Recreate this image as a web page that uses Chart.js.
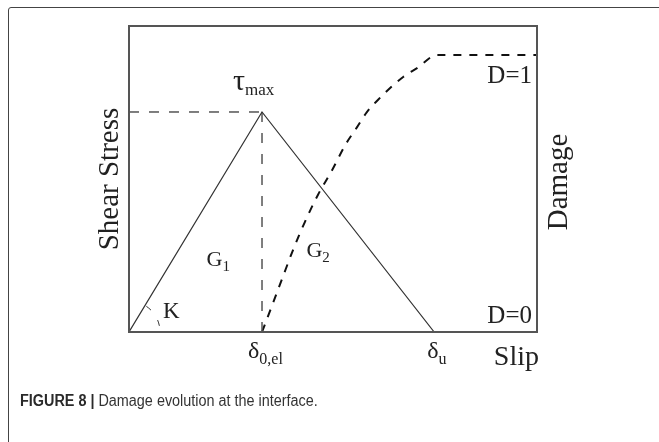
<!DOCTYPE html>
<html lang="en">
  <head>
    <meta charset="UTF-8" />
    <title>Damage evolution at the interface</title>
    <style>
      html,
      body {
        margin: 0;
        overflow: hidden;
        background: #fff;
        font-family: "Liberation Sans", Arial, Helvetica, sans-serif;
      }
      #frame {
        position: absolute;
        left: 8px;
        top: 7px;
        width: 690px;
        height: 480px;
        border: 1px solid #444;
        border-radius: 3px;
      }
      #caption {
        position: absolute;
        left: 20px;
        top: 393px;
        font-size: 16px;
        line-height: 1;
        color: #333;
        white-space: nowrap;
        transform: scaleX(0.9);
        transform-origin: left top;
      }
      #caption b {
        font-weight: bold;
        color: #2a2a2a;
      }
    </style>
    <script src="https://cdn.jsdelivr.net/npm/chart.js"></script>
  </head>
  <body>
    <div id="frame"></div>
    <canvas id="damageChart" width="659" height="442" style="position: absolute; left: 0; top: 0"></canvas>
    <div id="caption"><b>FIGURE 8 |</b> Damage evolution at the interface.</div>

    <script>
      // traction-separation law (slip in %, shear stress in % of plot height)
      const slipTri = [0, 32.6, 74.8];
      const stressTri = [0, 71.9, 0];
      const slipPeak = 32.6; // delta_0,el
      const tauMax = 71.9;

      // damage curve (right axis, 0..1)
      const damageSlip = [32.6, 35.3, 37.7, 40.2, 43.1, 46.3, 49.8, 53.0, 55.9, 58.3, 61.0, 64.0, 67.2, 70.6, 75.5, 100];
      const damageVals = [0, 0.105, 0.199, 0.296, 0.397, 0.495, 0.585, 0.675, 0.74, 0.794, 0.838, 0.881, 0.921, 0.953, 1.0, 1.0];

      const toPoints = (xs, ys) => xs.map((v, i) => ({ x: v, y: ys[i] }));

      // helper: main text with subscript
      function subText(ctx, main, sub, x, y, size, subSize, drop) {
        ctx.font = size + 'px "Liberation Serif", "Times New Roman", serif';
        ctx.fillText(main, x, y);
        const w = ctx.measureText(main).width;
        ctx.font = subSize + 'px "Liberation Serif", "Times New Roman", serif';
        ctx.fillText(sub, x + w, y + drop);
      }

      const annotate = {
        id: 'annotate',
        afterDraw(chart) {
          const { ctx, chartArea: a, scales } = chart;
          const x = scales.x, y = scales.y, y2 = scales.y2;
          ctx.save();

          // plot box
          ctx.strokeStyle = '#555';
          ctx.lineWidth = 2;
          ctx.strokeRect(a.left, a.top, a.right - a.left, a.bottom - a.top);

          // stiffness arc K
          const ox = x.getPixelForValue(0), oy = y.getPixelForValue(0);
          const ang = Math.atan2(y.getPixelForValue(tauMax) - oy, x.getPixelForValue(slipPeak) - ox);
          ctx.strokeStyle = '#333';
          ctx.lineWidth = 1;
          ctx.setLineDash([6, 12]);
          ctx.beginPath();
          ctx.arc(ox, oy, 31, ang + 0.05, -0.08);
          ctx.stroke();
          ctx.setLineDash([]);

          ctx.fillStyle = '#222';
          ctx.textBaseline = 'alphabetic';
          ctx.textAlign = 'left';
          const serif = '"Liberation Serif", "Times New Roman", serif';

          // axis titles
          ctx.font = '29px ' + serif;
          ctx.save();
          ctx.translate(a.left - 11, (a.top + a.bottom) / 2);
          ctx.rotate(-Math.PI / 2);
          ctx.textAlign = 'center';
          ctx.fillText('Shear Stress', 0, 0);
          ctx.restore();

          ctx.save();
          ctx.translate(a.right + 30, (a.top + a.bottom) / 2 + 3);
          ctx.rotate(-Math.PI / 2);
          ctx.textAlign = 'center';
          ctx.fillText('Damage', 0, 0);
          ctx.restore();

          ctx.font = '28px ' + serif;
          ctx.textAlign = 'right';
          ctx.fillText('Slip', a.right + 2, a.bottom + 33);
          ctx.textAlign = 'left';

          // damage levels
          ctx.font = '25px ' + serif;
          ctx.textAlign = 'right';
          ctx.fillText('D=1', a.right - 5, y2.getPixelForValue(1) + 28);
          ctx.fillText('D=0', a.right - 5, a.bottom - 9);
          ctx.textAlign = 'left';

          // symbols
          const px = x.getPixelForValue(slipPeak);
          subText(ctx, '\u03c4', 'max', px - 29, y.getPixelForValue(tauMax) - 22, 30, 17, 5);
          subText(ctx, '\u03b4', '0,el', px - 14, a.bottom + 26, 24, 16, 6);
          subText(ctx, '\u03b4', 'u', x.getPixelForValue(slipTri[2]) - 7, a.bottom + 26, 24, 16, 6);
          subText(ctx, 'G', '1', x.getPixelForValue(19), y.getPixelForValue(21.5), 22, 15, 5);
          subText(ctx, 'G', '2', x.getPixelForValue(43.5), y.getPixelForValue(24.5), 22, 15, 5);
          ctx.font = '23px ' + serif;
          ctx.fillText('K', ox + 34, oy - 14);

          ctx.restore();
        }
      };

      const ctx = document.getElementById('damageChart').getContext('2d');
      new Chart(ctx, {
        type: 'scatter',
        data: {
          datasets: [
            {
              label: 'Shear stress',
              data: toPoints(slipTri, stressTri),
              showLine: true,
              borderColor: '#333',
              borderWidth: 1.2,
              pointRadius: 0,
            },
            {
              label: 'tau max',
              data: toPoints([0, slipPeak], [tauMax, tauMax]),
              showLine: true,
              borderColor: '#555',
              borderWidth: 1.5,
              borderDash: [10, 10],
              pointRadius: 0,
            },
            {
              label: 'delta 0',
              data: toPoints([slipPeak, slipPeak], [tauMax, 0]),
              showLine: true,
              borderColor: '#555',
              borderWidth: 1.5,
              borderDash: [10, 11],
              pointRadius: 0,
            },
            {
              label: 'Damage',
              data: toPoints(damageSlip, damageVals),
              yAxisID: 'y2',
              showLine: true,
              borderColor: '#111',
              borderWidth: 2,
              borderDash: [8, 8],
              cubicInterpolationMode: 'monotone',
              pointRadius: 0,
            },
          ],
        },
        options: {
          responsive: false,
          animation: false,
          layout: {
            padding: { left: 129, top: 26, right: 122, bottom: 110 },
          },
          plugins: {
            legend: { display: false },
            tooltip: { enabled: false },
          },
          scales: {
            x: { type: 'linear', min: 0, max: 100, display: false },
            y: { min: 0, max: 100, display: false },
            y2: { min: 0, max: 1.105, display: false, position: 'right' },
          },
        },
        plugins: [annotate],
      });
    </script>
  </body>
</html>
